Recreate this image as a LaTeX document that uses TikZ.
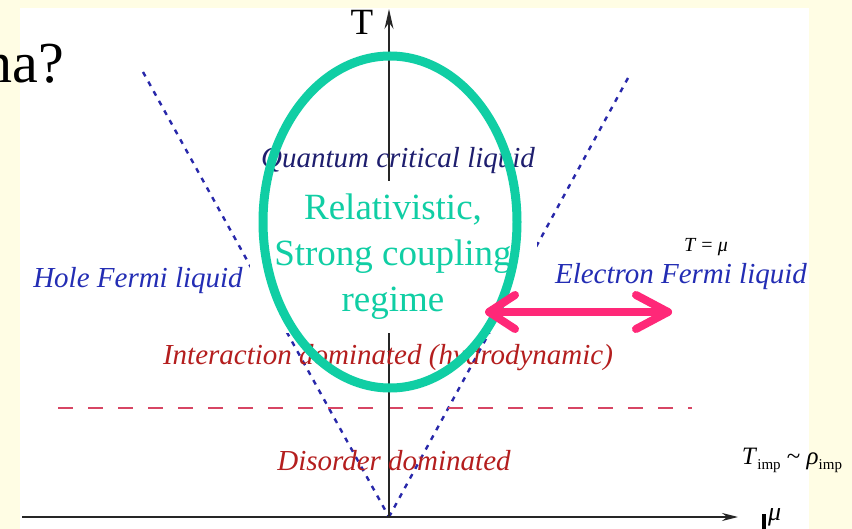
\documentclass[tikz,border=0pt]{standalone}
\usepackage{fontspec}
\setmainfont{Liberation Serif}
\usetikzlibrary{arrows.meta}
\definecolor{bgyellow}{RGB}{255,253,228}
\definecolor{xblue}{RGB}{40,40,170}
\definecolor{navyc}{RGB}{30,30,110}
\definecolor{fblue}{RGB}{35,45,180}
\definecolor{dred}{RGB}{180,30,30}
\definecolor{dashred}{RGB}{215,70,100}
\definecolor{tealc}{RGB}{16,206,164}
\definecolor{pinkc}{RGB}{255,40,120}
\begin{document}
\begin{tikzpicture}[x=1pt,y=-1pt,
  lbl/.style={font=\fontsize{29}{34}\selectfont\itshape, inner sep=0pt},
  axis/.style={draw=black!85, line width=1.6pt},
  crossover/.style={draw=xblue, line width=2.4pt, dash pattern=on 5pt off 6pt},
  divide/.style={draw=dashred, line width=2pt, dash pattern=on 15pt off 15pt},
  pinkarrow/.style={draw=pinkc, line width=8pt, line cap=round, line join=round}]
\useasboundingbox (0,0) rectangle (852,529);
\fill[bgyellow] (0,0) rectangle (852,529);
\fill[white] (20,8) rectangle (809,529);
\node[anchor=base east, font=\fontsize{58}{60}\selectfont, inner sep=0pt] (na) at (64,83) {na?};
% coordinates
\coordinate (o) at (389,517);
\coordinate (ttip) at (389,9);
\coordinate (xl) at (22,517);
\coordinate (xr) at (738,517);
\coordinate (l1) at (143,72);
\coordinate (r1) at (628,78);
\coordinate (d1) at (58,408);
\coordinate (d2) at (692,408);
% crossover lines
\draw[crossover] (l1) -- (o);
\draw[crossover] (r1) -- (o);
\draw[divide] (d1) -- (d2);
% axes
\draw[axis, -{Stealth[length=20pt,width=9pt]}] (o) -- (ttip);
\draw[axis, -{Stealth[length=16pt,width=8pt]}] (xl) -- (xr);
\node[font=\fontsize{37}{40}\selectfont, inner sep=0pt] (tl) at (362,22) {T};
\fill (762,514) rectangle (766,529);
\node[font=\fontsize{26}{28}\selectfont\itshape, anchor=north west, inner sep=0pt] (mu) at (768,508) {μ};
% labels
\node[lbl, text=navyc] (qcl) at (398,161) {Quantum critical liquid};
\node[lbl, text=fblue] (hfl) at (138,281) {Hole Fermi liquid};
\node[lbl, text=fblue] (efl) at (681,277) {Electron Fermi liquid};
\node[lbl, text=dred] (idh) at (388,358) {Interaction dominated (hydrodynamic)};
\node[lbl, text=dred] (dd) at (394,461) {Disorder dominated};
% teal region
\node[fill=white, minimum width=287pt, minimum height=152pt, align=center, text=tealc,
      font=\fontsize{37}{46}\selectfont, inner sep=0pt] (rel) at (393,257) {Relativistic,\\Strong coupling\\regime};
\draw[tealc, line width=9pt] (390,222) ellipse [x radius=127, y radius=166];
% pink arrow
\coordinate (pa) at (489,312);
\coordinate (pb) at (668,312);
\draw[pinkarrow] (pa) -- (pb);
\draw[pinkarrow] ([shift={(26,-17)}]pa) -- (pa) -- ([shift={(26,17)}]pa);
\draw[pinkarrow] ([shift={(-32,-17)}]pb) -- (pb) -- ([shift={(-32,17)}]pb);
% black formulas
\node[font=\fontsize{20}{22}\selectfont, inner sep=0pt] (tmu) at (706,247) {\textit{T} = \textit{μ}};
\node[font=\fontsize{25}{27}\selectfont, inner sep=0pt] (timp) at (792,460) {\textit{T}{\fontsize{15}{16}\selectfont\raisebox{-5pt}{imp}} \textasciitilde{} \textit{ρ}{\fontsize{15}{16}\selectfont\raisebox{-5pt}{imp}}};
\end{tikzpicture}
\end{document}
